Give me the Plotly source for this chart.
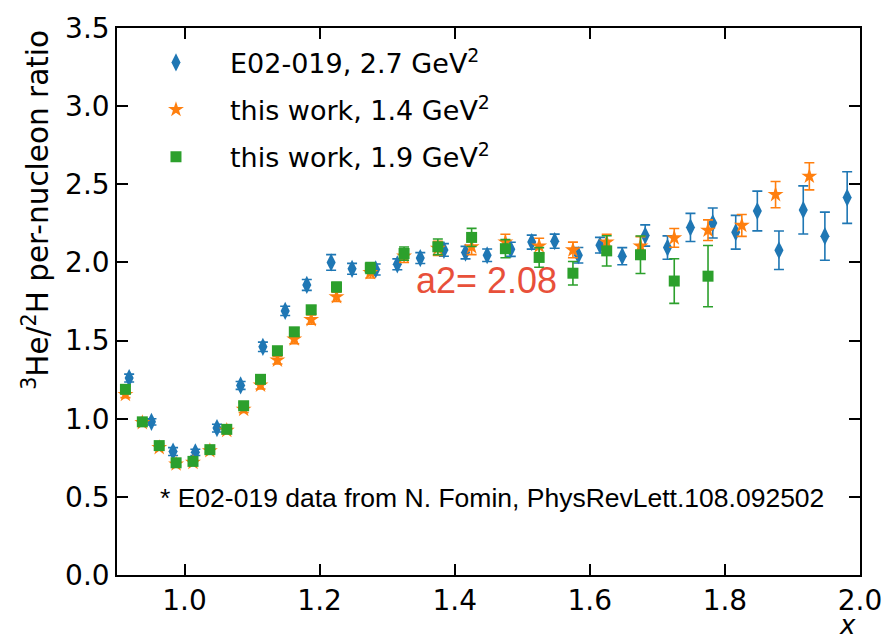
import plotly.graph_objects as go

# E02-019, 2.7 GeV^2
e02_x = [0.918, 0.951, 0.983, 1.016, 1.048, 1.083, 1.116, 1.149, 1.181, 1.217, 1.248,
         1.283, 1.315, 1.349, 1.384, 1.416, 1.448, 1.483, 1.514, 1.548, 1.583, 1.615,
         1.648, 1.682, 1.715, 1.749, 1.782, 1.816, 1.848, 1.880, 1.916, 1.948, 1.981]
e02_y = [1.26, 0.98, 0.79, 0.785, 0.94, 1.213, 1.46, 1.69, 1.856, 2.0, 1.959,
         1.955, 1.988, 2.028, 2.08, 2.063, 2.046, 2.084, 2.13, 2.136, 2.046, 2.11,
         2.04, 2.172, 2.095, 2.224, 2.252, 2.193, 2.329, 2.078, 2.336, 2.168, 2.415]
e02_err = [0.025, 0.02, 0.025, 0.02, 0.025, 0.025, 0.03, 0.03, 0.035, 0.05, 0.035,
           0.035, 0.035, 0.035, 0.04, 0.04, 0.04, 0.045, 0.045, 0.045, 0.05, 0.05,
           0.055, 0.068, 0.075, 0.09, 0.096, 0.108, 0.127, 0.123, 0.154, 0.154, 0.165]

# this work, 1.4 GeV^2
w14_x = [0.9125, 0.9375, 0.9625, 0.9875, 1.0125, 1.0375, 1.0625, 1.0875, 1.1125,
         1.1375, 1.1625, 1.1875, 1.225, 1.275, 1.325, 1.375, 1.425, 1.475, 1.525,
         1.575, 1.625, 1.675, 1.725, 1.775, 1.825, 1.875, 1.925]
w14_y = [1.155, 0.975, 0.815, 0.71, 0.72, 0.795, 0.925, 1.06, 1.215,
         1.375, 1.51, 1.634, 1.78, 1.935, 2.04, 2.09, 2.10, 2.13, 2.105,
         2.08, 2.13, 2.105, 2.157, 2.206, 2.237, 2.434, 2.551]
w14_err = [0.02, 0.015, 0.015, 0.015, 0.015, 0.015, 0.02, 0.02, 0.025,
           0.025, 0.03, 0.03, 0.03, 0.035, 0.04, 0.045, 0.05, 0.05, 0.05,
           0.05, 0.05, 0.06, 0.06, 0.066, 0.07, 0.084, 0.087]

# this work, 1.9 GeV^2
w19_x = [0.9125, 0.9375, 0.9625, 0.9875, 1.0125, 1.0375, 1.0625, 1.0875, 1.1125,
         1.1375, 1.1625, 1.1875, 1.225, 1.275, 1.325, 1.375, 1.425, 1.475, 1.525,
         1.575, 1.625, 1.675, 1.725, 1.775]
w19_y = [1.188, 0.98, 0.828, 0.718, 0.727, 0.802, 0.932, 1.083, 1.252,
         1.435, 1.556, 1.697, 1.843, 1.965, 2.057, 2.10, 2.16, 2.088, 2.032,
         1.931, 2.074, 2.049, 1.881, 1.912]
w19_err = [0.02, 0.015, 0.015, 0.015, 0.015, 0.015, 0.02, 0.02, 0.02,
           0.025, 0.025, 0.025, 0.03, 0.035, 0.042, 0.05, 0.058, 0.058, 0.063,
           0.075, 0.097, 0.12, 0.143, 0.196]

x_ticks = [1.0, 1.2, 1.4, 1.6, 1.8, 2.0]
y_ticks = [0.0, 0.5, 1.0, 1.5, 2.0, 2.5, 3.0, 3.5]

BLUE, ORANGE, GREEN = "#1f77b4", "#ff7f0e", "#2ca02c"
FONT = "DejaVu Sans"

fig = go.Figure()

def add(xs, ys, errs, name, color, symbol, size, group):
    fig.add_trace(go.Scatter(
        x=xs, y=ys, mode="markers", name=name, legendgroup=group,
        marker=dict(color=color, symbol=symbol, size=size, line=dict(width=0)),
        error_y=dict(type="data", array=errs, visible=True, color=color,
                     thickness=1.6, width=5),
    ))

add(e02_x, e02_y, e02_err, "E02-019, 2.7 GeV<sup>2</sup>", BLUE, "diamond-tall", 13, "a")
add(w14_x, w14_y, w14_err, "this work, 1.4 GeV<sup>2</sup>", ORANGE, "star", 12, "b")
add(w19_x, w19_y, w19_err, "this work, 1.9 GeV<sup>2</sup>", GREEN, "square", 11, "c")

axis_common = dict(
    showline=True, linecolor="black", linewidth=1.5, mirror="ticks",
    ticks="inside", ticklen=11, tickwidth=1.5, tickcolor="black",
    showgrid=False, zeroline=False,
    tickfont=dict(family=FONT, size=28, color="black"),
)

fig.update_xaxes(range=[0.9, 2.0], tickvals=x_ticks,
                 ticktext=[f"{v:.1f}" for v in x_ticks], **axis_common)
fig.update_yaxes(range=[0.0, 3.5], tickvals=y_ticks,
                 ticktext=[f"{v:.1f}" for v in y_ticks], **axis_common)

fig.add_annotation(x=1.447, y=1.886, xref="x", yref="y", text="a2= 2.08",
                   xanchor="center", yanchor="middle",
                   showarrow=False, font=dict(family="Liberation Sans", size=36, color="#e8503a"))
fig.add_annotation(x=1.4545, y=0.49, xref="x", yref="y",
                   text="* E02-019 data from N. Fomin, PhysRevLett.108.092502",
                   xanchor="center", yanchor="middle",
                   showarrow=False, font=dict(family="Liberation Sans", size=26.5, color="black"))
fig.add_annotation(x=0.9826, y=-0.0916, xref="paper", yref="paper", text="<i>x</i>",
                   xanchor="center", yanchor="middle",
                   showarrow=False, font=dict(family=FONT, size=26, color="black"))
fig.add_annotation(x=-0.11, y=0.668, xref="paper", yref="paper", textangle=-90,
                   text="<sup>3</sup>He/<sup>2</sup>H per-nucleon ratio",
                   xanchor="center", yanchor="middle",
                   showarrow=False, font=dict(family=FONT, size=29.5, color="black"))

fig.update_layout(
    width=894, height=641,
    margin=dict(l=117, r=31, t=18, b=66),
    paper_bgcolor="white", plot_bgcolor="white",
    showlegend=True,
    legend=dict(x=0.0067, y=0.981, xanchor="left", yanchor="top",
                font=dict(family=FONT, size=27, color="black"),
                bgcolor="rgba(0,0,0,0)", tracegroupgap=9, itemwidth=98),
)

fig.write_html("out.html")
